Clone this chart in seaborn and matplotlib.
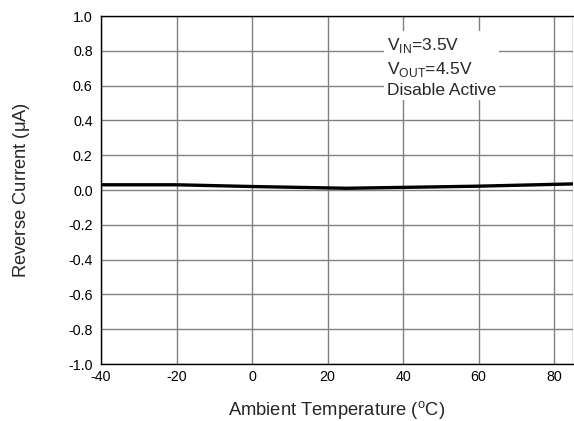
import matplotlib
matplotlib.use("Agg")
import matplotlib.pyplot as plt
import seaborn as sns
import pandas as pd
from matplotlib.ticker import MultipleLocator

temps = [-40, -20, 0, 25, 40, 60, 85]
current = [0.03, 0.03, 0.02, 0.01, 0.015, 0.022, 0.035]
xticks = [-40, -20, 0, 20, 40, 60, 80]
yticks = [-1.0, -0.8, -0.6, -0.4, -0.2, 0.0, 0.2, 0.4, 0.6, 0.8, 1.0]

sns.set_style("white")
plt.rcParams['font.family'] = ['Liberation Sans', 'DejaVu Sans']
plt.rcParams['mathtext.fontset'] = 'custom'
plt.rcParams['mathtext.rm'] = 'Liberation Sans'

df = pd.DataFrame({"T": temps, "I": current})

W, H = 574, 421
fig = plt.figure(figsize=(W/100, H/100), dpi=100)
ax = fig.add_axes([101/W, 1 - 364/H, (573-101)/W, (364-16)/H])

ax.set_xlim(-40, 85)
ax.set_ylim(-1.0, 1.0)
ax.set_xticks(xticks)
ax.set_yticks(yticks)
ax.set_xticklabels([f"{v}" for v in xticks])
ax.set_yticklabels([f"{v:.1f}" for v in yticks])
ax.xaxis.set_minor_locator(MultipleLocator(10))
ax.yaxis.set_minor_locator(MultipleLocator(0.1))
ax.tick_params(which='both', direction='in', top=False, right=False,
               labelsize=10.3, colors='black')
ax.tick_params(which='major', length=0, pad=6)
ax.tick_params(which='minor', length=3, width=0.8)
ax.tick_params(axis='x', which='major', pad=4)
ax.grid(True, which='major', color='#808080', linewidth=1.0)
ax.axvline(85, color='#808080', linewidth=1.0)
for s in ax.spines.values():
    s.set_color('black')
    s.set_linewidth(1.0)
ax.spines['right'].set_visible(False)

sns.lineplot(data=df, x="T", y="I", ax=ax, color='black', linewidth=2.4)

ax.set_xlabel("")
ax.set_ylabel("")
fig.text(337/W, 1 - 410/H, "Ambient Temperature ($^{\\mathrm{o}}$C)",
         fontsize=13.2, ha='center', va='center')
fig.text(22/W, 1 - 190/H, "Reverse Current ($\\mathrm{\\mu}$A)",
         fontsize=13.2, ha='center', va='center', rotation=90)

ax.text(35.7, 0.885,
        "V$_{\\mathrm{IN}}$=3.5V\nV$_{\\mathrm{OUT}}$=4.5V\nDisable Active",
        fontsize=12.5, va='top', ha='left', linespacing=1.33,
        bbox=dict(facecolor='white', edgecolor='none', pad=2))

fig.savefig("out.png", dpi=100)
